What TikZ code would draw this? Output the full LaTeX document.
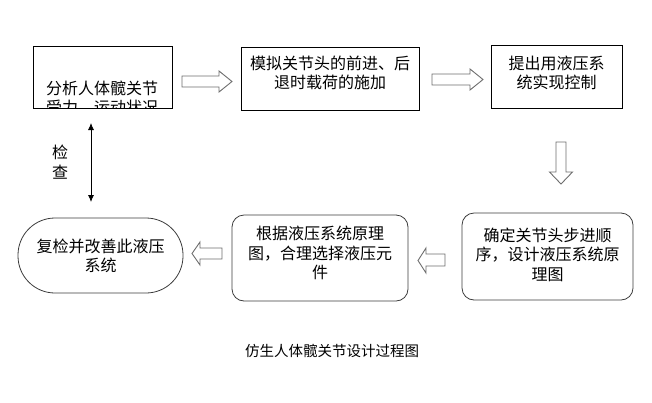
\documentclass[tikz,border=0pt]{standalone}
\usepackage{fontspec}
\newfontfamily\cjk{Noto Sans CJK SC}
\usetikzlibrary{arrows.meta}
\definecolor{arrowgray}{HTML}{6E6E6E}
\definecolor{roundgray}{HTML}{3C3C3C}
\begin{document}
\begin{tikzpicture}[x=1pt,y=-1pt,
  every node/.style={inner sep=0pt, outer sep=0pt},
  txt/.style={font=\cjk\fontsize{16}{19.5}\selectfont, align=center, text=black},
  sqbox/.style={draw=black, line width=0.8pt, rectangle},
  rdbox/.style={draw=roundgray, line width=0.8pt, rectangle, rounded corners=12pt},
  stadium/.style={draw=roundgray, line width=0.8pt, rectangle, rounded corners=37pt},
  blockarrow/.style={draw=arrowgray, line width=0.9pt, fill=white, line join=miter},
  captiontext/.style={font=\cjk\fontsize{14.5}{18}\selectfont, text=black}
]
\useasboundingbox (0,0) rectangle (652,402);

% boxes
\node[sqbox, minimum width=139pt, minimum height=62pt] (b1) at (102.5,77) {};
\node[sqbox, minimum width=178pt, minimum height=63pt] (b2) at (330,78.5) {};
\node[sqbox, minimum width=131pt, minimum height=63pt] (b3) at (556.5,76.5) {};
\node[rdbox, minimum width=171pt, minimum height=87pt] (b4) at (547.5,256.5) {};
\node[rdbox, minimum width=176pt, minimum height=86pt] (b5) at (320,258) {};
\node[stadium, minimum width=165pt, minimum height=75pt] (b6) at (100.5,255.5) {};

% texts
\begin{scope}
  \clip (b1.south west) rectangle (b1.north east);
  \node[txt] (t1a) at (102,88) {分析人体髋关节};
  \node[txt] (t1b) at (102,107) {受力、运动状况};
\end{scope}
\node[txt] (t2) at (330,73) {模拟关节头的前进、后\\退时载荷的施加};
\node[txt] (t3) at (556.5,73) {提出用液压系\\统实现控制};
\node[txt] (t4) at (547.5,254.5) {确定关节头步进顺\\序，设计液压系统原\\理图};
\node[txt] (t5) at (320,253) {根据液压系统原理\\图，合理选择液压元\\件};
\node[txt] (t6) at (100.5,256) {复检并改善此液压\\系统};
\node[txt] (t7) at (60,162) {检\\查};

% block arrows
\draw[blockarrow] (182,76) -- (219,76) -- (219,71) -- (232,81.5) -- (219,92) -- (219,87) -- (182,87) -- cycle;
\draw[blockarrow] (432,74) -- (470,74) -- (470,69) -- (483,79.5) -- (470,90) -- (470,85) -- (432,85) -- cycle;
\draw[blockarrow] (556,142) -- (566,142) -- (566,172) -- (572.5,172) -- (561,184) -- (549.5,172) -- (556,172) -- cycle;
\draw[blockarrow] (445,254) -- (426,254) -- (426,248) -- (418,260.5) -- (426,273) -- (426,266) -- (445,266) -- cycle;
\draw[blockarrow] (222,248) -- (200,248) -- (200,242) -- (192,253.5) -- (200,265) -- (200,259) -- (222,259) -- cycle;

% check double arrow
\coordinate (c1) at (91,123);
\coordinate (c2) at (91,202);
\draw[line width=0.8pt, {Latex[length=7pt,width=6pt]}-{Latex[length=7pt,width=6pt]}] (c1) -- (c2);

% caption
\node[captiontext] (captionnode) at (332,351) {仿生人体髋关节设计过程图};
\end{tikzpicture}
\end{document}
